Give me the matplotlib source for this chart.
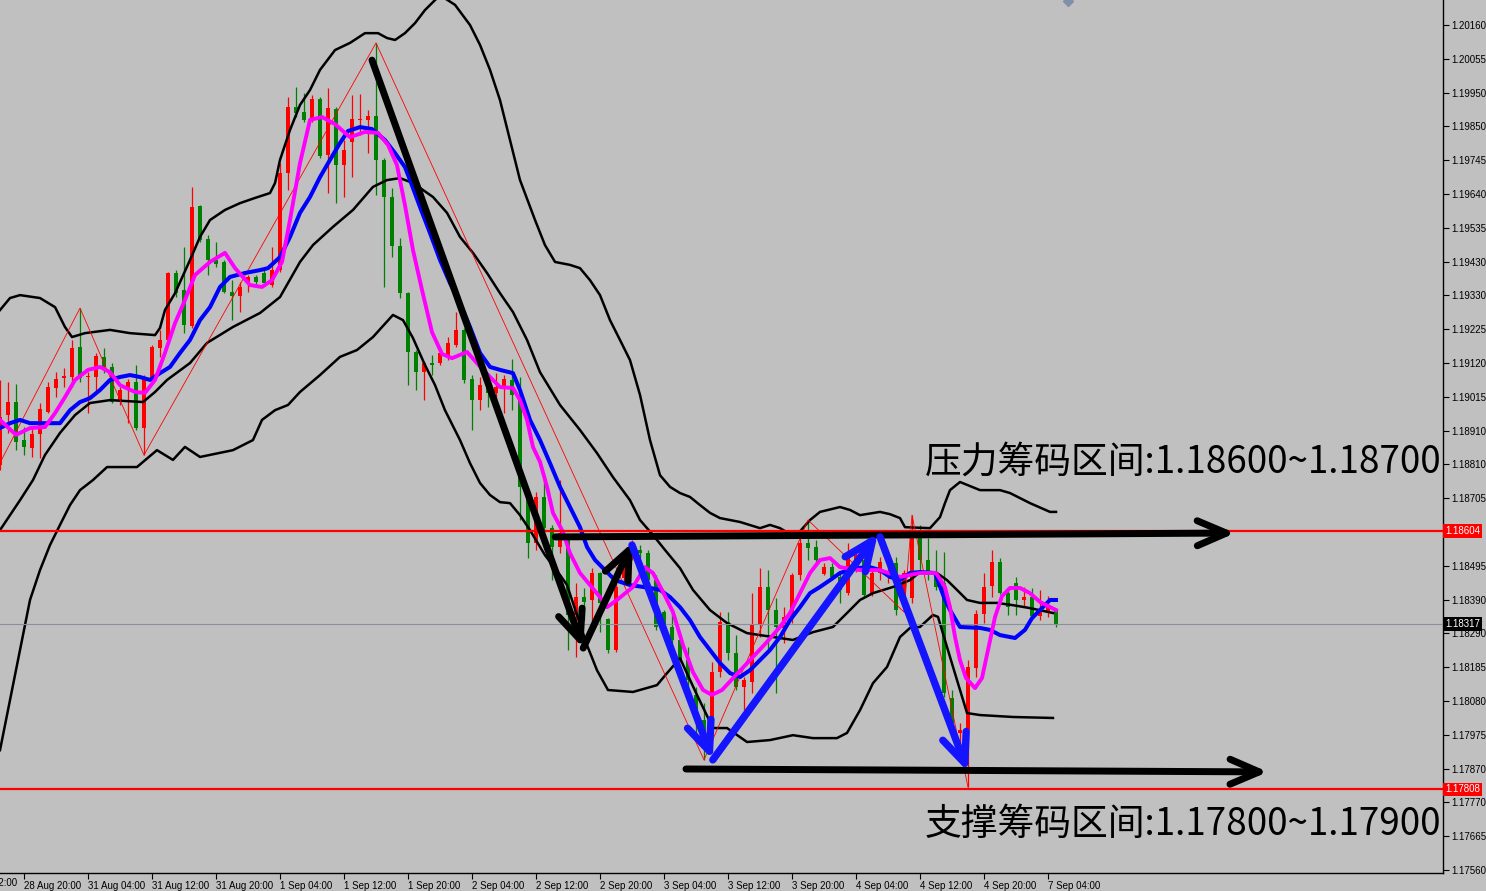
import matplotlib
matplotlib.use("Agg")
import matplotlib.pyplot as plt
import matplotlib.transforms as mtransforms

# ---------------- data: EURUSD H1, candle index 0 = 28 Aug 17:00 ----------------
opens = [
    1.18806, 1.18960, 1.19000, 1.18883, 1.18859, 1.18902, 1.18969, 1.19043, 1.19074, 1.19077,
    1.19169, 1.19077, 1.19077, 1.19139, 1.19108, 1.19006, 1.19037, 1.19062, 1.18920, 1.19074,
    1.19166, 1.19191, 1.19397, 1.19345, 1.19234, 1.19603, 1.19502, 1.19437, 1.19431, 1.19339,
    1.19326, 1.19369, 1.19385, 1.19397, 1.19360, 1.19406, 1.19705, 1.19908, 1.19892, 1.19868,
    1.19932, 1.19760, 1.19902, 1.19729, 1.19800, 1.19868, 1.19868, 1.19880, 1.19745, 1.19631,
    1.19480, 1.19335, 1.19154, 1.19092, 1.19120, 1.19120, 1.19139, 1.19175, 1.19222, 1.19071,
    1.19006, 1.19068, 1.19028, 1.19043, 1.19068, 1.19022, 1.18708, 1.18566, 1.18708, 1.18612,
    1.18554, 1.18575, 1.18345, 1.18400, 1.18391, 1.18474, 1.18332, 1.18237, 1.18459, 1.18535,
    1.18545, 1.18535, 1.18452, 1.18354, 1.18308, 1.18268, 1.18206, 1.18099, 1.18022, 1.17991,
    1.18169, 1.18323, 1.18228, 1.18123, 1.18138, 1.18317, 1.18431, 1.18360, 1.18305, 1.18339,
    1.18468, 1.18566, 1.18554, 1.18471, 1.18492, 1.18462, 1.18412, 1.18492, 1.18514, 1.18412,
    1.18474, 1.18465, 1.18505, 1.18391, 1.18397, 1.18585, 1.18514, 1.18474, 1.18443, 1.18089,
    1.17982, 1.17991, 1.18182, 1.18348, 1.18434, 1.18508, 1.18412, 1.18443, 1.18391, 1.18400,
    1.18342, 1.18351, 1.18360]
highs = [
    1.19068, 1.19062, 1.19055, 1.18923, 1.18923, 1.18997, 1.19062, 1.19092, 1.19105, 1.19191,
    1.19289, 1.19092, 1.19151, 1.19166, 1.19120, 1.19046, 1.19071, 1.19114, 1.19083, 1.19175,
    1.19222, 1.19400, 1.19406, 1.19477, 1.19662, 1.19606, 1.19514, 1.19492, 1.19437, 1.19375,
    1.19369, 1.19391, 1.19391, 1.19406, 1.19477, 1.19735, 1.19939, 1.19969, 1.19951, 1.19945,
    1.19939, 1.19966, 1.19908, 1.19806, 1.19945, 1.19948, 1.19899, 1.20105, 1.19750, 1.19659,
    1.19505, 1.19339, 1.19160, 1.19123, 1.19145, 1.19166, 1.19200, 1.19277, 1.19228, 1.19083,
    1.19077, 1.19074, 1.19089, 1.19083, 1.19132, 1.19077, 1.18720, 1.18723, 1.18769, 1.18622,
    1.18760, 1.18582, 1.18443, 1.18428, 1.18489, 1.18477, 1.18335, 1.18443, 1.18505, 1.18575,
    1.18560, 1.18545, 1.18468, 1.18360, 1.18354, 1.18277, 1.18246, 1.18123, 1.18074, 1.18200,
    1.18354, 1.18354, 1.18283, 1.18154, 1.18412, 1.18489, 1.18483, 1.18397, 1.18369, 1.18474,
    1.18582, 1.18637, 1.18575, 1.18505, 1.18505, 1.18474, 1.18566, 1.18545, 1.18529, 1.18483,
    1.18523, 1.18499, 1.18523, 1.18483, 1.18652, 1.18622, 1.18582, 1.18545, 1.18539, 1.18114,
    1.18012, 1.18206, 1.18360, 1.18474, 1.18545, 1.18520, 1.18431, 1.18462, 1.18431, 1.18428,
    1.18422, 1.18403, 1.18366]
lows = [
    1.18791, 1.18905, 1.18852, 1.18837, 1.18831, 1.18828, 1.18966, 1.19015, 1.19046, 1.19046,
    1.19062, 1.18966, 1.19031, 1.19089, 1.18997, 1.18991, 1.18935, 1.18914, 1.18837, 1.19062,
    1.19139, 1.19185, 1.19323, 1.19212, 1.19228, 1.19492, 1.19391, 1.19415, 1.19335, 1.19252,
    1.19277, 1.19339, 1.19360, 1.19357, 1.19354, 1.19400, 1.19652, 1.19877, 1.19862, 1.19862,
    1.19751, 1.19643, 1.19612, 1.19631, 1.19692, 1.19822, 1.19766, 1.19637, 1.19354, 1.19446,
    1.19320, 1.19052, 1.19037, 1.19006, 1.19083, 1.19114, 1.19129, 1.19169, 1.19058, 1.18914,
    1.18975, 1.18985, 1.18969, 1.18966, 1.18975, 1.18637, 1.18520, 1.18545, 1.18600, 1.18452,
    1.18535, 1.18237, 1.18215, 1.18329, 1.18320, 1.18292, 1.18228, 1.18231, 1.18443, 1.18514,
    1.18520, 1.18437, 1.18299, 1.18292, 1.18246, 1.18200, 1.18105, 1.17960, 1.17899, 1.17960,
    1.18154, 1.18206, 1.18114, 1.18052, 1.18105, 1.18277, 1.18237, 1.18105, 1.18259, 1.18320,
    1.18452, 1.18514, 1.18505, 1.18468, 1.18452, 1.18382, 1.18406, 1.18477, 1.18397, 1.18403,
    1.18452, 1.18443, 1.18345, 1.18354, 1.18382, 1.18483, 1.18452, 1.18422, 1.18092, 1.18000,
    1.17939, 1.17815, 1.18154, 1.18320, 1.18400, 1.18408, 1.18345, 1.18345, 1.18369, 1.18335,
    1.18329, 1.18339, 1.18308]
closes = [
    1.18954, 1.19000, 1.18877, 1.18862, 1.18902, 1.18979, 1.19046, 1.19071, 1.19080, 1.19166,
    1.19074, 1.19080, 1.19142, 1.19108, 1.19000, 1.19037, 1.19062, 1.18920, 1.19077, 1.19169,
    1.19191, 1.19397, 1.19335, 1.19237, 1.19600, 1.19499, 1.19437, 1.19425, 1.19339, 1.19326,
    1.19354, 1.19385, 1.19369, 1.19366, 1.19406, 1.19705, 1.19908, 1.19889, 1.19868, 1.19932,
    1.19757, 1.19905, 1.19729, 1.19775, 1.19871, 1.19871, 1.19880, 1.19745, 1.19631, 1.19480,
    1.19335, 1.19154, 1.19092, 1.19120, 1.19114, 1.19151, 1.19182, 1.19222, 1.19068, 1.19006,
    1.19052, 1.19028, 1.19046, 1.19071, 1.19022, 1.18739, 1.18566, 1.18708, 1.18612, 1.18554,
    1.18597, 1.18345, 1.18400, 1.18385, 1.18474, 1.18382, 1.18237, 1.18431, 1.18499, 1.18560,
    1.18535, 1.18452, 1.18308, 1.18308, 1.18268, 1.18206, 1.18145, 1.18052, 1.17951, 1.18169,
    1.18323, 1.18228, 1.18123, 1.18145, 1.18317, 1.18431, 1.18360, 1.18308, 1.18339, 1.18468,
    1.18566, 1.18551, 1.18514, 1.18492, 1.18462, 1.18422, 1.18520, 1.18529, 1.18406, 1.18474,
    1.18508, 1.18471, 1.18360, 1.18474, 1.18600, 1.18514, 1.18474, 1.18431, 1.18105, 1.18012,
    1.17991, 1.18185, 1.18348, 1.18431, 1.18508, 1.18412, 1.18369, 1.18391, 1.18400, 1.18342,
    1.18354, 1.18369, 1.18317]

# fast MA (magenta), traced: candle position -> price
ma_fast_x = [0, 2, 3.75, 5.62, 6.88, 8.12, 9.38, 11, 12.5, 13.75, 15, 16.88, 18.12, 19.38, 20.62,
             21.88, 23.12, 24.38, 26.25, 28.12, 29.38, 31.25, 32.75, 34, 35.25, 36.25, 37.5, 38.75,
             40.25, 41.88, 43.75, 45.62, 47.25, 48.5, 49.62, 50.62, 51.62, 52.75, 54, 55.25, 56.5,
             58.38, 60.38, 62.5, 64.12, 65, 65.88, 66.62, 67.5, 68.38, 69.12, 70.38, 71.25, 72.5,
             73.75, 75, 75.88, 77.12, 79.12, 80.62, 81.62, 82.75, 84.12, 85.38, 86.62, 87.88, 89,
             90.25, 91.88, 93.75, 95.62, 97.5, 98.75, 100, 101.25, 102.5, 103.75, 105, 107.5, 110,
             112.5, 115, 117, 118.12, 118.75, 119.38, 120, 120.75, 121.88, 122.75, 123.5, 124.38,
             125.25, 126.25, 127.5, 128.75, 130, 132]
ma_fast = [1.18945, 1.18899, 1.18920, 1.18923, 1.18966, 1.19015, 1.19068, 1.19099, 1.19108, 1.19092,
           1.19052, 1.19031, 1.19028, 1.19068, 1.19151, 1.19243, 1.19314, 1.19391, 1.19431, 1.19459,
           1.19412, 1.19360, 1.19354, 1.19375, 1.19431, 1.19560, 1.19735, 1.19868, 1.19877, 1.19855,
           1.19815, 1.19831, 1.19828, 1.19791, 1.19729, 1.19606, 1.19468, 1.19345, 1.19215, 1.19148,
           1.19135, 1.19154, 1.19099, 1.19046, 1.19043, 1.19006, 1.18945, 1.18862, 1.18816, 1.18739,
           1.18659, 1.18600, 1.18535, 1.18474, 1.18437, 1.18400, 1.18369, 1.18391, 1.18431, 1.18492,
           1.18474, 1.18422, 1.18354, 1.18252, 1.18169, 1.18114, 1.18099, 1.18114, 1.18157, 1.18206,
           1.18255, 1.18308, 1.18351, 1.18412, 1.18474, 1.18514, 1.18520, 1.18492, 1.18483, 1.18483,
           1.18462, 1.18474, 1.18474, 1.18431, 1.18369, 1.18277, 1.18206, 1.18151, 1.18120, 1.18151,
           1.18237, 1.18339, 1.18403, 1.18428, 1.18428, 1.18412, 1.18385, 1.18360]

# slow MA (blue)
ma_slow_x = [0, 1.25, 2.5, 3.75, 5.62, 7.5, 8.75, 10, 11.25, 12.5, 13.75, 15, 16.25, 17.5, 18.75, 20,
             21.25, 22.5, 23.75, 25, 26.25, 27.5, 28.75, 30.62, 32.5, 33.5, 35, 36.25, 37.5, 38.75,
             40, 41.25, 42.5, 43.5, 45, 46.5, 48.12, 49.38, 50.62, 51.25, 52.5, 53.75, 55, 56.25,
             57.5, 58.75, 60, 61.25, 62.5, 64.12, 65, 66.25, 67.5, 68.75, 70, 71.25, 72.5, 73.38,
             74.38, 75.62, 76.88, 78.75, 81.25, 82.5, 83.75, 85, 86.25, 87.5, 88.75, 90, 91.25, 92.5,
             93.75, 95, 96.25, 97.5, 98.75, 100, 101.25, 102.5, 103.75, 105, 106.88, 108.75, 110,
             111.25, 112.5, 113.75, 115, 116.88, 118.12, 118.75, 120, 122.5, 123.75, 125, 126.88,
             128.12, 129, 130, 131.25, 132]
ma_slow = [1.18920, 1.18935, 1.18945, 1.18935, 1.18935, 1.18935, 1.18975, 1.19000, 1.19012, 1.19037,
           1.19068, 1.19077, 1.19083, 1.19077, 1.19068, 1.19089, 1.19108, 1.19151, 1.19191, 1.19252,
           1.19292, 1.19354, 1.19385, 1.19397, 1.19406, 1.19412, 1.19446, 1.19508, 1.19582, 1.19631,
           1.19692, 1.19745, 1.19797, 1.19834, 1.19846, 1.19840, 1.19806, 1.19766, 1.19723, 1.19683,
           1.19600, 1.19520, 1.19437, 1.19366, 1.19305, 1.19231, 1.19151, 1.19108, 1.19099, 1.19089,
           1.19037, 1.18945, 1.18883, 1.18812, 1.18739, 1.18677, 1.18615, 1.18554, 1.18514, 1.18483,
           1.18452, 1.18437, 1.18428, 1.18422, 1.18400, 1.18369, 1.18329, 1.18277, 1.18237, 1.18197,
           1.18166, 1.18154, 1.18175, 1.18206, 1.18237, 1.18277, 1.18329, 1.18369, 1.18412, 1.18431,
           1.18452, 1.18474, 1.18489, 1.18492, 1.18483, 1.18462, 1.18452, 1.18474, 1.18477, 1.18474,
           1.18391, 1.18360, 1.18308, 1.18305, 1.18299, 1.18283, 1.18274, 1.18299, 1.18335, 1.18360,
           1.18391, 1.18391]

# Bollinger bands
bb_up_x = [0, 1.25, 2.5, 5, 6.88, 8.12, 9, 10.62, 13.75, 16.25, 19.38, 20, 20.62, 21.88, 23.75, 25,
           26.25, 28.12, 30, 31.88, 33.75, 34.38, 35, 36.25, 37.5, 38.75, 40, 41.88, 43.75, 45.62,
           47.25, 48.38, 49.38, 50.62, 51.88, 53.12, 55, 56.88, 58.75, 60, 61.25, 62.5, 63.75, 65,
           66.88, 68.12, 69.38, 71.25, 72.5, 73.75, 75, 76.25, 77.5, 78.75, 80, 81.25, 82.5, 83.75,
           85, 86.25, 87.5, 88.75, 90, 92.5, 95, 96.25, 97.5, 99.38, 101.25, 102.5, 105, 106.25,
           107.5, 110, 111.25, 112.5, 113.12, 116.25, 117.5, 118.12, 118.75, 120, 122.5, 125,
           126.25, 128.75, 131.25, 132]
bb_up = [1.19283, 1.19320, 1.19329, 1.19320, 1.19292, 1.19231, 1.19200, 1.19212, 1.19222, 1.19212,
         1.19206, 1.19228, 1.19283, 1.19335, 1.19437, 1.19508, 1.19560, 1.19591, 1.19612, 1.19628,
         1.19643, 1.19674, 1.19745, 1.19837, 1.19914, 1.19960, 1.20022, 1.20083, 1.20105, 1.20135,
         1.20135, 1.20120, 1.20114, 1.20135, 1.20166, 1.20206, 1.20252, 1.20222, 1.20160, 1.20099,
         1.20022, 1.19929, 1.19806, 1.19683, 1.19560, 1.19483, 1.19431, 1.19422, 1.19412, 1.19375,
         1.19329, 1.19252, 1.19191, 1.19129, 1.19022, 1.18883, 1.18775, 1.18739, 1.18720, 1.18708,
         1.18683, 1.18659, 1.18643, 1.18631, 1.18612, 1.18622, 1.18612, 1.18585, 1.18637, 1.18662,
         1.18677, 1.18668, 1.18652, 1.18662, 1.18655, 1.18643, 1.18615, 1.18612, 1.18646, 1.18689,
         1.18729, 1.18754, 1.18729, 1.18729, 1.18720, 1.18689, 1.18662, 1.18662]
bb_mid_x = [0, 1.25, 2.5, 4.12, 5.62, 7.5, 9.38, 11.25, 13.75, 17.88, 19.38, 20.88, 23.75, 25.88,
            29.12, 32.5, 35, 37.5, 39.12, 41.62, 44.12, 46.62, 48.38, 50, 51.62, 54.12, 55.88, 57.5,
            59.12, 60.88, 62.5, 64.12, 65.88, 67.5, 70, 72.5, 74.62, 76.62, 78.75, 80, 81.62, 83.12,
            85, 86.62, 88.75, 90.88, 93.38, 96.62, 99.12, 101.62, 104.12, 105.88, 107.5, 109.12,
            111.62, 113.75, 115, 117.12, 118.38, 119.62, 120.88, 122.5, 124.62, 126.62, 128.75,
            131.62]
bb_mid = [1.18606, 1.18652, 1.18698, 1.18760, 1.18837, 1.18905, 1.18960, 1.18997, 1.19006, 1.19000,
          1.19031, 1.19068, 1.19120, 1.19182, 1.19231, 1.19274, 1.19323, 1.19431, 1.19483, 1.19539,
          1.19591, 1.19662, 1.19683, 1.19689, 1.19674, 1.19631, 1.19582, 1.19508, 1.19459, 1.19397,
          1.19335, 1.19277, 1.19191, 1.19092, 1.18991, 1.18914, 1.18843, 1.18769, 1.18698, 1.18637,
          1.18591, 1.18545, 1.18489, 1.18422, 1.18360, 1.18320, 1.18289, 1.18277, 1.18268, 1.18292,
          1.18308, 1.18351, 1.18391, 1.18412, 1.18431, 1.18452, 1.18477, 1.18474, 1.18452, 1.18422,
          1.18391, 1.18382, 1.18382, 1.18375, 1.18366, 1.18351]
bb_low_x = [0, 1.25, 2.5, 3.75, 5, 6.25, 7.5, 8.75, 10, 11.62, 13.38, 17.12, 19.62, 21.62, 23.12, 25,
            29.12, 31.62, 32.75, 34.38, 36, 37.5, 40, 42.5, 44.62, 46.62, 49.12, 50.38, 51.62,
            53.12, 54.38, 55.62, 57.5, 58.75, 60, 61.25, 62.5, 63.75, 65, 66.25, 68.12, 70, 70.88,
            72.12, 73.38, 74.62, 76, 79.12, 82.12, 83.38, 85, 87.12, 89.12, 90.88, 93.38, 96.25,
            99.12, 101.62, 104.62, 105.88, 107.5, 109.12, 110.88, 112.5, 113.75, 115, 116.62,
            117.25, 118.38, 119.62, 120.88, 122.5, 126.62, 131.62]
bb_low = [1.17929, 1.18083, 1.18237, 1.18391, 1.18483, 1.18560, 1.18622, 1.18683, 1.18729, 1.18760,
          1.18800, 1.18800, 1.18852, 1.18822, 1.18862, 1.18831, 1.18852, 1.18883, 1.18945, 1.18975,
          1.18991, 1.19031, 1.19083, 1.19139, 1.19160, 1.19200, 1.19268, 1.19252, 1.19197, 1.19114,
          1.19052, 1.18975, 1.18883, 1.18812, 1.18751, 1.18714, 1.18692, 1.18689, 1.18652, 1.18606,
          1.18529, 1.18468, 1.18437, 1.18345, 1.18252, 1.18175, 1.18114, 1.18108, 1.18129, 1.18166,
          1.18212, 1.18099, 1.17997, 1.17997, 1.17954, 1.17960, 1.17975, 1.17966, 1.17966, 1.17982,
          1.18052, 1.18135, 1.18185, 1.18277, 1.18305, 1.18308, 1.18345, 1.18339, 1.18246, 1.18145,
          1.18043, 1.18037, 1.18031, 1.18028]

# zigzag pivots
zz_x = [0, 10, 18, 47, 88, 101, 113, 114, 121]
zz_y = [1.18813, 1.19289, 1.18837, 1.20105, 1.17899, 1.18637, 1.18354, 1.18652, 1.17815]

# hand-drawn arrows: (start, end) in (candle position, price)
black_arrows = [((46.5, 1.20052), (72.9, 1.18243)),
                ((72.9, 1.18243), (79.1, 1.18569)),
                ((69.4, 1.18585), (154.4, 1.18597)),
                ((85.75, 1.17871), (158.5, 1.17862))]
blue_arrows = [((79.0, 1.18560), (89.1, 1.17899)),
               ((89.1, 1.17899), (109.75, 1.18597)),
               ((110.0, 1.18585), (121.0, 1.17862))]

resist_level = 1.18604
support_level = 1.17808
last_price = 1.18317

ytick_vals = [1.20160, 1.20055, 1.19950, 1.19850, 1.19745, 1.19640, 1.19535, 1.19430, 1.19330,
              1.19225, 1.19120, 1.19015, 1.18910, 1.18810, 1.18705, 1.18495, 1.18390, 1.18290,
              1.18185, 1.18080, 1.17975, 1.17870, 1.17770, 1.17665, 1.17560]
xtick_pos = [3 + 8 * n for n in range(17)]
xtick_lbl = ["28 Aug 20:00", "31 Aug 04:00", "31 Aug 12:00", "31 Aug 20:00", "1 Sep 04:00",
             "1 Sep 12:00", "1 Sep 20:00", "2 Sep 04:00", "2 Sep 12:00", "2 Sep 20:00",
             "3 Sep 04:00", "3 Sep 12:00", "3 Sep 20:00", "4 Sep 04:00", "4 Sep 12:00",
             "4 Sep 20:00", "7 Sep 04:00"]

# ---------------- drawing ----------------
BG = "#c0c0c0"
UP, DN = "#ff0000", "#008000"
fig = plt.figure(figsize=(14.86, 8.91), dpi=100, facecolor=BG)
ax = fig.add_axes([0, 18 / 891, 1443 / 1486, 873 / 891])
ax.set_facecolor(BG)
ax.set_xlim(0, 1443 / 8)
ax.set_ylim(1.17551, 1.20237)

idx = list(range(len(opens)))
cols = [UP if c >= o else DN for o, c in zip(opens, closes)]
ax.vlines(idx, lows, highs, colors=cols, lw=0.9, zorder=2)
bott = [min(o, c) for o, c in zip(opens, closes)]
hgt = [max(abs(c - o), 0.00002) for o, c in zip(opens, closes)]
ax.bar(idx, hgt, bottom=bott, width=0.62, color=cols, linewidth=0, zorder=2)

for xs, ys in ((bb_up_x, bb_up), (bb_mid_x, bb_mid), (bb_low_x, bb_low)):
    ax.plot(xs, ys, color="black", lw=1.8, zorder=3, solid_joinstyle="round")
ax.plot(zz_x, zz_y, color="#ff0000", lw=0.6, zorder=3)
ax.plot(ma_slow_x, ma_slow, color="#0000ff", lw=2.9, zorder=4, solid_joinstyle="round")
ax.plot(ma_fast_x, ma_fast, color="#ff00ff", lw=2.8, zorder=4, solid_joinstyle="round")

ax.axhline(last_price, color="#8a8f9e", lw=0.8, zorder=3)
ax.axhline(resist_level, color="#ff0000", lw=1.6, zorder=5)
ax.axhline(support_level, color="#ff0000", lw=1.6, zorder=5)

for (p0, p1) in black_arrows:
    ax.annotate("", xy=p1, xytext=p0, zorder=6, annotation_clip=False,
                arrowprops=dict(arrowstyle="->,head_length=1.4,head_width=0.6", color="black",
                                lw=5, mutation_scale=15, shrinkA=0, shrinkB=0, capstyle="round"))
for (p0, p1) in blue_arrows:
    ax.annotate("", xy=p1, xytext=p0, zorder=6,
                arrowprops=dict(arrowstyle="->,head_length=1.4,head_width=0.6", color="#1414ff",
                                lw=5.3, mutation_scale=15, shrinkA=0, shrinkB=0, capstyle="round"))

cjk = ["Noto Sans CJK SC", "DejaVu Sans"]
ax.text(115.6, 1.18815, "压力筹码区间:1.18600~1.18700", fontsize=26.5, family=cjk,
        va="center", ha="left", zorder=7)
ax.text(115.6, 1.17699, "支撑筹码区间:1.17800~1.17900", fontsize=26.5, family=cjk,
        va="center", ha="left", zorder=7)

# MT4 shift marker at the top
ax.plot([133.5], [1.20234], marker="D", ms=5, color="#8090a8", clip_on=False, zorder=7)

# axes styling
for s in ("top", "left"):
    ax.spines[s].set_visible(False)
ax.spines["right"].set_linewidth(1.0)
ax.spines["bottom"].set_linewidth(1.0)
ax.yaxis.tick_right()
ax.set_yticks(ytick_vals)
ax.set_yticklabels([f"{v:.5f}" for v in ytick_vals])
ax.set_xticks(xtick_pos)
ax.set_xticklabels(xtick_lbl, ha="left")
ax.tick_params(axis="y", length=4, width=0.8, pad=2, labelsize=7)
ax.tick_params(axis="x", length=4, width=0.8, pad=2, labelsize=7)
for lab in ax.get_xticklabels() + ax.get_yticklabels():
    lab.set_family("Liberation Sans")

# label partly scrolled off the left edge, as in the terminal
ax.text(-5, -0.006, "28 Aug 12:00", transform=mtransforms.blended_transform_factory(ax.transData, ax.transAxes),
        fontsize=7, family="Liberation Sans", ha="left", va="top", clip_on=False)

trans = mtransforms.blended_transform_factory(ax.transAxes, ax.transData)
for val, fc in ((resist_level, "#ff0000"), (last_price, "black"), (support_level, "#ff0000")):
    ax.text(1.0 + 2 / 1443, val, f"{val:.5f}", transform=trans, fontsize=7, family="Liberation Sans",
            color="white", va="center", ha="left", zorder=8, clip_on=False,
            bbox=dict(boxstyle="square,pad=0.2", fc=fc, ec="none"))

fig.savefig("out.png", dpi=100, facecolor=BG)
